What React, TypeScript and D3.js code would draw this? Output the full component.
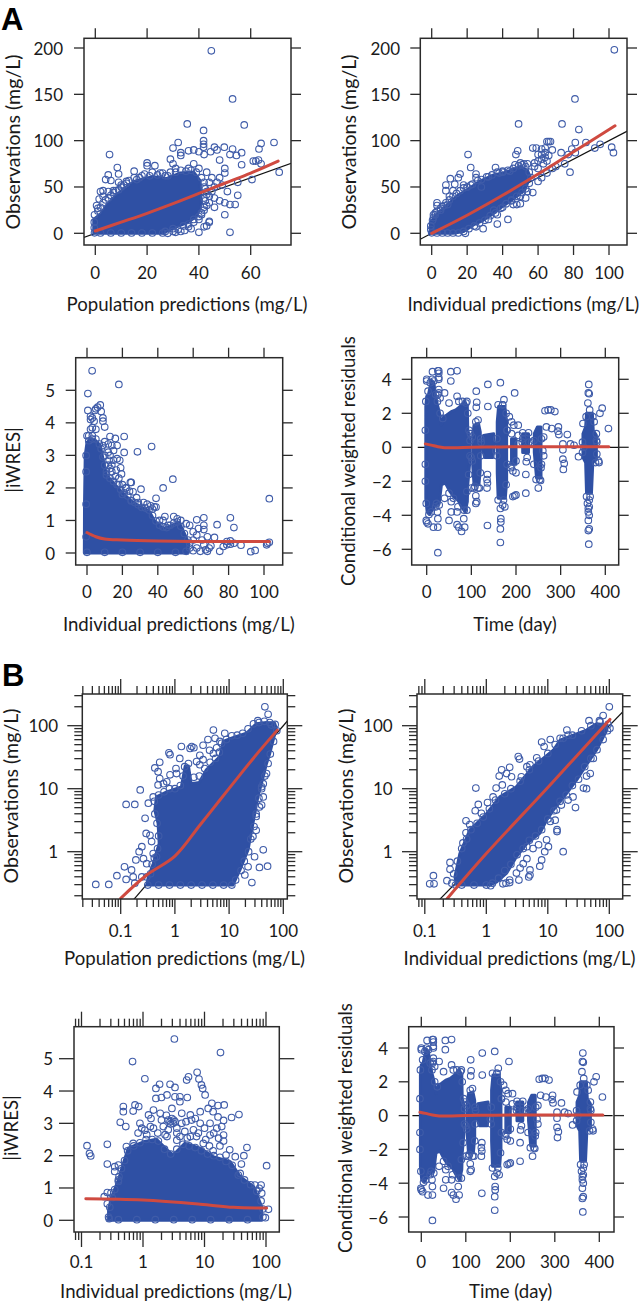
import React from "react";
import * as d3 from "d3";

type P = [number, number];

const BLUE = "#2f50a4";
const RING = "#3f5ca9";
const RED = "#cf4a40";

// ---------- Panel A1: observations vs population predictions ----------
const a1Dense: P[] = [[-0.6,0],[26,0],[27.5,2],[31.4,7],[35,11],[39,18],[41,32],[40.4,57],[38,66],[32.7,65],[27.5,59],[22.4,61],[18.5,59],[15,56],[11,48],[7.6,40],[4.4,30],[2,21],[-0.6,15]];
const a1Edge: P[] = [[1,24],[2,28],[3,33],[4,36],[5,38],[6,41],[7,44],[8,46],[9,47],[10,50],[11,52],[12,54],[13,57],[15,60],[16,58],[18,62],[19,64],[21,62],[22,66],[24,63],[26,65],[28,62],[29,66],[31,66],[33,68],[35,67],[37,68],[39,66],[41,60],[42,55],[42.5,48],[43,42],[42.5,35],[42,28],[41,22],[40,18],[38,15],[36,10],[34,8],[32,4],[30,2],[26,0.3],[22,0.3],[18,0.3],[14,0.3],[10,0.3],[6,0.3],[2,0.3],[-0.3,0.5],[-0.4,6],[-0.4,12],[-0.3,20]];
const a1Points: P[] = [[44.8,197],[53,145],[35.5,118],[57.5,117],[41.8,111],[41.8,100],[41.8,96],[41.8,93],[69,98],[64,97],[63.2,91],[53,91],[49.8,93],[46,93],[44.5,88],[42,85],[40,88],[38,90],[36,89],[33,87],[33,84],[30,92],[32,98],[52,85],[54.5,84],[56.5,87],[47,90],[48,79],[56.5,74],[61,78],[62,78],[63,79],[64,75],[71,66],[60.5,58],[55,55],[55,41],[52,31],[54,31],[50,20],[52,1],[44,13],[44,12],[42,7],[43,8],[40,1],[37,5],[36,7],[33,2],[34.5,3],[31,1],[28,0],[5.5,85],[8.5,71],[9,64],[5,63],[4,58],[6,57],[3,46],[2,45],[1.5,37],[3,40],[5,45],[7,46],[9,55],[10,52],[15,67],[20,76],[20,73],[23,73],[29,80],[30,75],[31,70],[36,70],[38,75],[40,70],[43,66],[45,60],[48,60],[50,70],[50,65],[47,55],[49,52],[51,45],[45,45],[44,40],[46,38],[48,35],[50,33],[46,28],[43,30],[42,25],[41,20],[40,15],[38,12],[30,5],[27,2],[25,65],[27,62],[17,60],[12,56],[1,27],[0.5,30],[42,50],[44,55],[46,50],[43,45],[42,38],[44,33]];
const a1Smooth: P[] = [[0,2.5],[10,12],[20,21.6],[30,32],[40,43],[50,54],[60,65],[70.6,78]];
const a1Identity: P[] = [[-5,-5],[76,76]];

// ---------- Panel A2: observations vs individual predictions ----------
const a2Dense: P[] = [[-0.7,0],[12,0],[18,2],[23.5,9],[29,14],[35,21.6],[40,29],[48,40],[52.6,47],[55.5,61],[54,68],[50,72],[42,66],[35,63],[27,56],[20,47],[14,40],[8.5,30],[3,21],[-0.7,12]];
const a2Edge: P[] = [[0.5,14],[1,17],[2,20],[3,24],[5,27],[6,29],[8,33],[10,36],[12,40],[14,43],[16,46],[18,49],[20,50],[23,53],[26,57],[28,58],[31,61],[34,63],[37,66],[40,67],[43,68],[46,70],[49,73],[51,74],[53,72],[55,66],[56,60],[55,54],[53,48],[51,44],[48,40],[45,36],[42,32],[39,27],[36,22],[33,19],[30,14],[27,11],[24,8],[21,5],[18,2],[15,0.3],[12,0.3],[9,0.3],[6,0.3],[3,0.3],[0,0.5],[-0.5,4],[-0.5,8]];
const a2Points: P[] = [[103,198],[80.8,145],[49,118],[73.5,118],[83,112],[87,98],[81,98],[65,99],[66,99],[67,99],[95,96],[92,92],[101.5,93],[102.5,87],[48.5,89],[47.5,85],[20.5,85],[22,71],[36,71],[64,92],[57,92],[59,92],[62,91],[68,90],[73,87],[79,91],[81,87],[77,85],[75,75],[78,66],[70,72],[68,70],[65,65],[62,60],[60,56],[57,44],[50,32],[48,31],[46,31],[43,15],[37,20],[37,10],[29,5],[19,0],[25,7],[10.5,59],[8,52],[13,53],[16,64],[15,60],[25,60],[25,64],[10,40],[8,46],[3,33],[3,30],[7,30],[9,31],[1,20],[2,22],[5,25],[28,50],[32,61],[38,65],[40,66],[44,67],[47,74],[50,76],[52,75],[54,75],[58,76],[60,78],[62,80],[64,82],[60,70],[63,75],[65,78],[18,52],[20,50],[22,52],[12,46],[45,35],[50,40],[53,38],[54,45],[32,15],[35,25],[40,28],[62,85],[64,87],[66,84],[60,85],[58,72]];
const a2Smooth: P[] = [[0,0],[20,19.5],[40,41],[60,64],[80,88],[103.4,116]];
const a2Identity: P[] = [[-7,-7],[111,111]];

// ---------- Panel A3 / B3: |iWRES| vs individual predictions ----------
const a3Dense: P[] = [[-1.5,0],[57,0],[57.5,0.3],[55,0.6],[52,0.95],[48,0.85],[43,0.75],[38,1],[35,1.3],[30,1.42],[25,1.6],[20,1.85],[15,2.15],[11,2.4],[9,2.9],[7.5,3.3],[5,3.45],[2,3.5],[0,3.4],[-1,3],[-1.4,1.5]];
const a3Edge: P[] = [[0,3.6],[1,3.45],[3,3.5],[5,3.5],[7,3.35],[8,3.2],[9,2.95],[10,2.7],[11,2.5],[13,2.3],[15,2.2],[17,2.1],[19,1.95],[21,1.85],[23,1.75],[25,1.62],[27,1.55],[29,1.48],[31,1.4],[33,1.38],[35,1.32],[37,1.15],[39,0.98],[41,0.85],[43,0.8],[45,0.78],[47,0.85],[49,0.92],[51,0.95],[53,0.82],[55,0.6],[57,0.4],[58,0.15],[56,0.05],[50,0.02],[40,0.02],[30,0.02],[20,0.02],[10,0.02],[0,0.02],[-0.5,0.5],[-0.5,1.5],[-0.5,2.5],[-0.5,3],[12,2.7],[14,2.5],[10,3],[12,3.1],[14,2.7],[16,2.35],[18,2.3],[22,2],[24,1.9],[28,1.7],[32,1.55],[34,1.5],[36,1.45]];
const a3Points: P[] = [[2.9,5.6],[18,5.18],[0.5,4.9],[7.5,4.55],[6,4.48],[5,4.43],[4.5,4.38],[0.5,4.38],[8,4.35],[2,4.2],[9,4.15],[9,4.05],[2,4.1],[3,4.15],[4,4.05],[10,3.87],[3,3.85],[5,3.8],[2,3.8],[1,3.6],[3,3.6],[21,3.58],[36.5,3.27],[21,3.09],[28.5,3.11],[13,3.58],[16,3.52],[10,3.42],[12,3.35],[14,3.3],[17,3.3],[9,3.3],[15,3.15],[13,3],[12.5,2.85],[15,2.85],[17,2.9],[18.5,2.85],[19,2.62],[19.5,2.43],[16.5,2.55],[13,2.6],[11,2.4],[48.5,2.27],[43,2],[30.5,1.96],[24.5,2.17],[25,2.17],[20,2.1],[18,2.1],[22,2],[26,1.88],[20,1.8],[39,1.68],[103,1.67],[29,1.55],[25,1.6],[38,1.42],[39,1.41],[37,1.35],[44,1.12],[49,1.12],[51,1.05],[41,1],[43,1],[46,0.85],[53,1],[66,1.08],[81,1.08],[62,1.02],[56,0.9],[58,0.85],[66,0.85],[63,0.75],[73.5,0.87],[83,0.78],[66,0.72],[60,0.65],[62,0.55],[68,0.5],[72,0.48],[65,0.4],[60,0.4],[70,0.22],[75,0.05],[77,0.2],[79,0.35],[81,0.37],[79,0.25],[81,0.27],[83,0.3],[87,0.24],[92.5,0.04],[95,0.08],[101.5,0.25],[102,0.3],[103,0.33],[68,0.05],[64,0.05],[60,0.07],[62,0.15],[66,0.25],[67,0.1],[69,0.15],[58,0.3]];
const a3Smooth: P[] = [[0,0.63],[5,0.5],[10,0.43],[20,0.4],[40,0.37],[60,0.355],[80,0.35],[103,0.35]];

const b3DenseLog: P[] = [[-0.56,0],[1.93,0],[1.93,0.42],[1.8,1.04],[1.58,1.35],[1.42,1.81],[1.14,1.97],[0.93,2.23],[0.68,2.38],[0.49,2.02],[0.39,2.18],[0.22,2.51],[0.01,2.43],[-0.24,2.23],[-0.32,1.76],[-0.4,1.25],[-0.51,0.73],[-0.56,0.32]];
const b3EdgeLog: P[] = [[-0.56,0.1],[-0.54,0.4],[-0.5,0.7],[-0.46,0.95],[-0.4,1.25],[-0.35,1.6],[-0.3,1.85],[-0.25,2.15],[-0.15,2.3],[-0.05,2.4],[0.05,2.5],[0.15,2.5],[0.25,2.45],[0.35,2.2],[0.45,2.05],[0.55,2.2],[0.65,2.35],[0.75,2.3],[0.85,2.25],[0.95,2.15],[1.05,2.05],[1.15,2],[1.25,1.95],[1.35,1.82],[1.45,1.7],[1.55,1.4],[1.65,1.25],[1.75,1.1],[1.85,0.9],[1.92,0.6],[1.95,0.35],[1.95,0.1],[1.7,0.02],[1.4,0.02],[1.1,0.02],[0.8,0.02],[0.5,0.02],[0.2,0.02],[-0.1,0.02],[-0.4,0.02],[-0.55,0.05],[-0.08,2.7],[0.06,2.65],[0.12,2.9],[0.24,2.7],[0.36,2.65],[0.3,3.1],[0.41,2.8],[0.55,2.7],[0.55,2.85],[0.68,2.75],[0.7,3.05],[0.72,2.55],[0.82,2.8],[0.85,3.15],[0.9,2.7],[1,2.85],[1.02,2.5],[1.08,2.3],[1.14,2.15],[1.15,2.7],[1.25,2.3],[1.28,2.9],[1.22,3.2],[-0.02,2.85],[0.13,3.15],[0.38,3.25]];
const b3PointsLog: P[] = [[0.51,5.61],[1.26,5.19],[-0.17,4.91],[0.03,4.38],[0.88,4.58],[0.74,4.44],[0.71,4.34],[0.91,4.37],[0.95,4.19],[0.97,4.08],[1.01,3.88],[0.44,4.21],[0.52,4.11],[0.27,4.21],[0.21,4.08],[0.21,3.77],[0.39,3.88],[0.3,3.8],[0.52,3.82],[0.6,3.82],[0.72,3.8],[0.6,3.67],[-0.13,3.57],[-0.07,3.52],[-0.32,3.52],[-0.32,3.36],[-0.16,3.38],[-0.37,3.03],[-0.28,2.9],[1.12,3.62],[1.32,3.57],[1.22,3.55],[1.06,3.46],[1.56,3.27],[1.44,3.18],[1.31,3.09],[1.14,3.36],[0.93,3.36],[0.77,3.26],[0.63,3.31],[0.47,3.46],[0.17,3.41],[0.09,3.26],[0.28,3.31],[0.44,3.05],[0.41,3.1],[0.49,3],[0.47,3.15],[0.52,3.05],[0.45,2.98],[0.5,3.1],[-0.05,3],[0.03,2.79],[0.17,2.85],[0.33,2.9],[0.63,3],[0.79,3.1],[0.93,3],[1.09,3],[1.2,2.85],[1.31,2.64],[1.31,2.45],[1.23,2.54],[1.09,2.64],[0.98,2.38],[-0.91,2.31],[-0.87,2.07],[-0.85,1.99],[-0.58,2.35],[-0.58,1.74],[-0.46,1.66],[-0.4,1.71],[-0.46,1.51],[-0.39,1.35],[-0.4,1.2],[-0.58,0.86],[-0.63,0.73],[-0.58,0.51],[-0.52,0.85],[1.69,2.25],[1.64,2],[1.6,1.74],[1.5,1.97],[1.41,2.18],[1.35,2.02],[2.01,1.69],[1.92,1.09],[1.82,1.09],[1.89,0.99],[1.93,0.84],[2.04,0.34],[1.99,0.08],[1.58,1.45],[-0.27,2.28],[-0.16,2.38],[0.39,2.59],[0.55,2.48],[0.6,2.59],[0.77,2.59],[0.87,2.59]];
const b3SmoothLog: P[] = [[-0.93,0.67],[0,0.63],[0.93,0.5],[1.47,0.4],[2.01,0.38]];

// ---------- Panels A4 / B4: conditional weighted residuals vs time ----------
const cwresVisit1: P[] = [[-2,2.4],[0,3],[4,3.1],[8,3.6],[12,3.9],[16,3.8],[20,3],[24,2.5],[28,2.1],[33,1.3],[38,1.8],[45,1.9],[55,2.1],[65,2.2],[75,2.4],[85,2.7],[91,2.4],[92,1],[96,0.6],[96,-1],[92,-2.2],[91,-3.2],[86,-3.8],[78,-3.5],[70,-3.1],[60,-2.9],[52,-2.6],[42,-2.1],[33,-2.2],[28,-3.3],[20,-3.4],[12,-3.7],[6,-3.95],[1,-3.8],[-2,-3]];
const cwresVisit2: P[] = [[103,0.7],[106,1.3],[116,1.4],[120,0.9],[120,-1.3],[117,-2.2],[106,-2.2],[103,-1]];
const cwresVisit3: P[] = [[127,0.7],[150,0.8],[152,0.2],[148,-0.6],[130,-0.6],[125,-0.1]];
const cwresVisit4: P[] = [[158,1.5],[161,2.4],[175,2.4],[179,1.5],[179,-2],[176,-3],[160,-3],[158,-1.5]];
const cwresVisit5: P[] = [[190,0.5],[200,0.5],[200,-1],[190,-1]];
const cwresVisit6: P[] = [[215,0.8],[228,0.8],[228,-0.3],[215,-0.3]];
const cwresVisit7: P[] = [[241,0.8],[248,1.2],[256,1.2],[256,-1.8],[246,-1.8],[241,-0.3]];
const cwresVisit8: P[] = [[350,0.8],[356,1.2],[358,2],[371,2],[373,1],[380,0.7],[380,-0.7],[372,-0.9],[369,-2.7],[358,-2.7],[356,-0.9],[350,-0.6]];
const cwresEdge: P[] = [[-3,1],[-3,-1],[-3,-2],[-2,2.7],[3,3.3],[8,3.8],[12,4],[16,3.9],[20,3.1],[24,2.7],[30,2],[36,1.7],[-1,-3.3],[5,-3.95],[10,-3.8],[20,-3.5],[60,-3],[92,2],[88,2.6],[95,1],[97,0.4],[97,-0.5],[94,-1.6],[102,0.6],[102,-0.8],[110,1.5],[115,1.6],[121,0.5],[121,-0.5],[120,-1.5],[106,-2.4],[115,-2.4],[157,0.5],[157,-0.5],[160,2.5],[170,2.5],[178,2],[180,1],[180,-1],[178,-2.2],[160,-3.1],[172,-3.1],[190,-1.1],[200,-0.8],[214,0.3],[229,0.3],[228,0.85],[215,0.85],[240,0.4],[257,0.5],[257,-1],[240,-1],[245,-1.9],[255,-1.95],[349,0.3],[349,-0.3],[381,0.3],[381,-0.4],[357,1.8],[372,1.8],[358,-2.9],[366,-2.9],[360,-3.3],[364,-3.5],[362,-3.8]];
const cwresPoints: P[] = [[13,4.45],[25,4.5],[27,4.5],[27,4.35],[27,4.1],[27,4],[54,4.45],[68,4.5],[54,3.9],[0,4],[0,3.9],[27,3.4],[27,3.2],[40,3.2],[30,2.9],[25,3.1],[68,3],[50,2.6],[72,2.7],[90,2.7],[80,2.7],[111,3.3],[112,2.65],[111,2.35],[137,3.7],[165,3.8],[137,2.4],[173,2.8],[197,3.2],[170,2.5],[185,1.8],[190,1.5],[195,1.3],[205,1.3],[180,1],[190,0.8],[205,0.7],[215,0.5],[265,2.15],[272,2.2],[278,2.2],[287,2.1],[393,2.3],[388,2],[407,1.1],[295,1.2],[294,0.95],[296,0.75],[280,1.1],[268,1.2],[262,0.6],[315,0.75],[305,0.2],[322,0.2],[330,0.12],[305,-0.15],[340,-0.55],[352,0],[350,1.4],[305,-0.7],[308,-0.95],[306,-1.3],[380,0.4],[385,-0.8],[386,-0.9],[380,0.8],[375,1.5],[378,-0.9],[260,-0.2],[250,-2.4],[253,-1.9],[222,-1.6],[223,-0.85],[225,-0.6],[222,-2.7],[200,-2.8],[197,-2.85],[193,-2.9],[200,-1.5],[193,-1.4],[188,-1.2],[136,-4.6],[135,-2.4],[135,-1.9],[136,-1.6],[136,-2.1],[112,-3.2],[110,-3.3],[110,-2.85],[118,-2.4],[108,-2.3],[165,-5.6],[165,-4.8],[166,-4.4],[166,-4.2],[165,-3.6],[170,-3.4],[175,-3.5],[363,-5.7],[362,-4.9],[364,-4.8],[362,-4.3],[364,-4],[362,-3.6],[364,-3.1],[363,3.7],[362,3.2],[364,3.15],[361,2.6],[365,2.2],[25,-6.2],[-1,-4.3],[0,-4.4],[3,-4.5],[15,-4.7],[25,-4.7],[25,-4.2],[24,-3.8],[22,-3.3],[50,-4.3],[55,-3.8],[55,-3.2],[68,-3.8],[68,-4.55],[72,-4.7],[78,-4.95],[85,-4.7],[83,-4.2],[84,-3.7],[90,-3.7],[90,-2.6],[100,-2.4],[40,-3],[28,-3.4],[50,-2.7],[70,-3.5],[98,0.8],[100,-0.6],[122,0.3],[155,-0.2],[205,0.2],[235,0.3],[262,-0.5],[256,-1.2]];
const cwresSmooth: P[] = [[-3,0.2],[10,0.13],[25,0.03],[40,-0.02],[60,-0.03],[100,0],[150,0.02],[200,0.03],[300,0.03],[408,0.03]];
const cwresZero: P[] = [[-20,0],[430,0]];

// ---------- Panel B1 (log10 of both axes) ----------
const b1DenseLog: P[] = [[-0.52,-0.53],[1.07,-0.53],[1.2,-0.29],[1.35,0.03],[1.44,0.45],[1.53,0.87],[1.63,1.19],[1.69,1.4],[1.75,1.56],[1.87,1.96],[1.84,2.04],[1.69,2.05],[1.5,2.03],[1.32,1.88],[1.07,1.81],[0.89,1.75],[0.83,1.51],[0.58,1.3],[0.45,1.1],[0.3,1.08],[0.25,1.36],[0.19,1.36],[0.12,1.03],[-0.15,0.95],[-0.34,0.87],[-0.37,0.66],[-0.31,0.45],[-0.29,0.13],[-0.4,-0.19],[-0.49,-0.4]];
const b1EdgeLog: P[] = [[-0.45,-0.35],[-0.42,-0.2],[-0.38,-0.1],[-0.32,0.05],[-0.3,0.25],[-0.33,0.45],[-0.37,0.6],[-0.38,0.8],[-0.3,0.9],[-0.2,0.95],[-0.1,1],[0,1],[0.1,1.05],[0.15,1.2],[0.18,1.35],[0.25,1.4],[0.35,1.18],[0.45,1.2],[0.55,1.32],[0.65,1.42],[0.75,1.48],[0.82,1.58],[0.86,1.72],[0.95,1.78],[1.05,1.84],[1.15,1.85],[1.25,1.88],[1.35,1.95],[1.45,2.03],[1.55,2.05],[1.65,2.07],[1.75,2.05],[1.85,2.02],[1.88,1.92],[1.82,1.75],[1.76,1.55],[1.72,1.4],[1.66,1.2],[1.6,1],[1.55,0.85],[1.5,0.6],[1.46,0.4],[1.4,0.2],[1.36,0],[1.28,-0.15],[1.22,-0.3],[1.12,-0.45],[1.05,-0.53],[0.9,-0.53],[0.7,-0.53],[0.5,-0.53],[0.3,-0.53],[0.1,-0.53],[-0.1,-0.53],[-0.3,-0.53],[-0.5,-0.53]];
const b1PointsLog: P[] = [[1.66,2.3],[1.72,2.18],[1.78,2.01],[1.53,2.08],[0.71,1.93],[0.92,1.88],[0.61,1.78],[0.74,1.8],[0.52,1.69],[0.77,1.65],[0.71,1.56],[0.46,1.53],[0.31,1.67],[0.28,1.64],[0.35,1.65],[0.12,1.67],[-0.11,1.57],[-0.09,1.54],[-0.28,1.42],[-0.37,1.33],[-0.31,1.27],[-0.28,1.16],[-0.31,1.06],[-0.21,1.08],[-0.09,1.22],[0.02,1.32],[0.03,1.24],[-0.15,1.11],[-0.64,0.98],[-0.4,0.87],[-0.49,0.77],[-0.9,0.75],[-0.74,0.75],[-0.55,0.53],[-0.53,0.29],[-0.46,0.26],[-0.43,0.16],[-0.61,0.08],[-0.66,0],[-0.72,-0.13],[-0.58,-0.11],[-0.52,-0.19],[-0.93,-0.24],[-0.9,-0.44],[-1.07,-0.38],[-1.46,-0.52],[-1.22,-0.52],[-0.8,-0.29],[-0.77,-0.4],[-0.74,-0.5],[-0.61,-0.4],[-0.52,-0.4],[-0.4,-0.03],[-0.34,-0.08],[1.63,0.03],[1.56,-0.25],[1.71,-0.23],[1.42,-0.49],[1.47,-0.08],[1.35,-0.24],[1.29,-0.37],[1.56,0.71],[1.5,0.56],[1.44,0.24],[1.6,0.74],[1.63,0.87],[1.63,1.08],[1.69,1.24],[1.6,1.03],[1.5,0.34],[0.46,1.38],[0.4,1.43],[0.52,1.46],[0.64,1.61],[0.83,1.75],[0.09,1.48]];
const b1SmoothLog: P[] = [[-1,-0.74],[-0.52,-0.37],[0,-0.07],[0.46,0.42],[0.83,0.82],[1.2,1.22],[1.56,1.6],[1.89,1.93]];
const b1IdentityLog: P[] = [[-0.8,-0.8],[2.1,2.1]];

// ---------- Panel B2 (log10 of both axes) ----------
const b2DenseLog: P[] = [[-0.48,-0.53],[0.06,-0.53],[0.17,-0.48],[0.33,-0.34],[0.49,-0.08],[0.66,0.13],[0.87,0.29],[0.98,0.5],[1.09,0.66],[1.31,0.93],[1.47,1.14],[1.63,1.38],[1.79,1.61],[1.96,1.93],[1.96,2.01],[1.79,2.03],[1.63,1.93],[1.2,1.77],[1.09,1.61],[0.76,1.35],[0.49,1.03],[0.22,0.87],[0.01,0.61],[-0.27,0.34],[-0.43,-0.03],[-0.51,-0.4]];
const b2EdgeLog: P[] = [[-0.5,-0.53],[-0.4,-0.53],[-0.2,-0.53],[0,-0.53],[0.1,-0.5],[0.2,-0.42],[0.3,-0.3],[0.4,-0.2],[0.5,-0.05],[0.6,0.05],[0.7,0.18],[0.8,0.25],[0.9,0.35],[1,0.52],[1.1,0.65],[1.2,0.8],[1.3,0.9],[1.4,1.05],[1.5,1.15],[1.6,1.35],[1.7,1.48],[1.8,1.62],[1.9,1.78],[1.97,1.92],[1.98,2.02],[1.85,2.06],[1.7,2],[1.55,1.92],[1.4,1.85],[1.25,1.8],[1.12,1.7],[1,1.56],[0.85,1.44],[0.7,1.3],[0.55,1.12],[0.4,1],[0.3,0.92],[0.15,0.82],[0.05,0.68],[-0.05,0.55],[-0.15,0.45],[-0.25,0.35],[-0.32,0.2],[-0.4,0.05],[-0.47,-0.15],[-0.53,-0.35]];
const b2PointsLog: P[] = [[2,2.3],[1.9,2.16],[1.67,2.08],[1.84,2.08],[2.01,1.96],[1.31,1.93],[1.33,1.85],[1.2,1.8],[1.04,1.78],[0.9,1.74],[0.94,1.67],[0.52,1.51],[0.54,1.47],[0.82,1.49],[0.25,1.3],[0.38,1.34],[0.33,1.24],[0.21,1.2],[0.41,1.19],[0.57,1.19],[0.66,1.35],[0.71,1.38],[-0.17,1.01],[0.26,1.06],[0.16,1.01],[0.11,0.87],[0.02,0.78],[-0.13,0.75],[-0.18,0.65],[-0.08,0.61],[-0.33,0.49],[-0.27,0.43],[-0.33,0.3],[-0.38,0.14],[-0.59,-0.17],[-0.59,-0.28],[-0.86,-0.38],[-0.92,-0.51],[-0.85,-0.51],[-0.64,-0.46],[-0.56,-0.5],[1.25,0],[1.45,0.7],[1.58,1.01],[1.63,1.2],[1.41,0.87],[1.33,0.82],[1.22,0.74],[1.15,0.32],[1.15,0.35],[1.12,0.5],[1.14,0.66],[1.04,0.48],[0.98,0.19],[1.01,0.08],[0.95,0],[0.9,-0.13],[0.87,-0.23],[0.76,0.05],[0.66,0.08],[0.85,0.11],[0.71,-0.37],[0.71,-0.29],[0.6,-0.19],[0.66,-0.11],[0.55,-0.26],[0.49,-0.34],[0.38,-0.45],[0.27,-0.51],[0.32,-0.5],[0.38,-0.49],[0.53,-0.45],[0.69,-0.4],[0.07,-0.54],[1.63,1],[1.69,1.24],[1.74,1.48]];
const b2SmoothLog: P[] = [[-0.64,-0.75],[0,-0.03],[1,1.02],[2.01,2.1]];
const b2IdentityLog: P[] = [[-0.8,-0.8],[2.23,2.23]];

// ---------- Tick labels and titles ----------
const xA1Ticks = [0, 20, 40, 60];
const xA2Ticks = [0, 20, 40, 60, 80, 100];
const yObsTicks = [0, 50, 100, 150, 200];
const yResTicks = [0, 1, 2, 3, 4, 5];
const xTimeTicks = [0, 100, 200, 300, 400];
const yCwresTicks = [-6, -4, -2, 0, 2, 4];
const logLabels = [0.1, 1, 10, 100];
const yLogLabels = [1, 10, 100];
const minorMultipliers = [2, 3, 4, 5, 6, 7, 8, 9];
const decades = [0.01, 0.1, 1, 10, 100];

const pow = (pts: P[]): P[] => pts.map(([a, b]) => [10 ** a, 10 ** b]);
const powX = (pts: P[]): P[] => pts.map(([a, b]) => [10 ** a, b]);
const fmtNum = (v: number) => String(v).replace("-", "\u2212");

type Scale = (v: number) => number;
interface Box { l: number; r: number; t: number; b: number }
interface PanelDef {
  box: Box;
  x: Scale; y: Scale;
  xTicks: number[]; yTicks: number[];
  xMinor?: number[]; yMinor?: number[];
  xTitle: string; yTitle: string; yTitleSize?: number;
  xTitleX: number; xTickY: number; xTitleY: number;
  yTitleX: number; yTitleY: number; yLabelX: number;
  dense: P[][]; points: P[]; smooth: P[]; ref?: P[];
}

const logMinor = (lo: number, hi: number) => {
  const out: number[] = [];
  decades.forEach((d) => minorMultipliers.forEach((m) => {
    const v = d * m;
    if (v >= lo && v <= hi) out.push(v);
  }));
  return out;
};

const Panel = ({ p, id }: { p: PanelDef; id: string }) => {
  const { box, x, y } = p;
  const line = d3.line<P>().x((d) => x(d[0])).y((d) => y(d[1]));
  const smoothLine = d3.line<P>().x((d) => x(d[0])).y((d) => y(d[1])).curve(d3.curveCatmullRom.alpha(0.5));
  const blob = d3.line<P>().x((d) => x(d[0])).y((d) => y(d[1])).curve(d3.curveLinearClosed);
  const major = p.xMinor ? 15 : 10;
  const minor = 8;
  const ink = "#2b2b2b";
  const sw = 1.3;
  return (
    <g>
      <defs>
        <clipPath id={id}><rect x={box.l} y={box.t} width={box.r - box.l} height={box.b - box.t} /></clipPath>
      </defs>
      <g clipPath={`url(#${id})`}>
        {p.ref && <path d={line(p.ref) || ""} fill="none" stroke="#111" strokeWidth={1.2} />}
      </g>
      {p.dense.map((d, i) => (
        <path key={i} d={blob(d) || ""} fill={BLUE} stroke={BLUE} strokeWidth={3} strokeLinejoin="round" />
      ))}
      {p.points.map((d, i) => (
        <circle key={i} cx={x(d[0])} cy={y(d[1])} r={3.3} fill="none" stroke={RING} strokeWidth={1.1} />
      ))}
      <path d={smoothLine(p.smooth) || ""} fill="none" stroke={RED} strokeWidth={3} strokeLinecap="round" clipPath={`url(#${id})`} />
      <rect x={box.l} y={box.t} width={box.r - box.l} height={box.b - box.t} fill="none" stroke={ink} strokeWidth={1.5} />
      {p.xTicks.map((v) => (
        <g key={`xt${v}`} stroke={ink} strokeWidth={sw}>
          <line x1={x(v)} x2={x(v)} y1={box.t - major} y2={box.t} />
          <line x1={x(v)} x2={x(v)} y1={box.b} y2={box.b + major} />
        </g>
      ))}
      {(p.xMinor || []).map((v) => (
        <g key={`xm${v}`} stroke={ink} strokeWidth={sw}>
          <line x1={x(v)} x2={x(v)} y1={box.t - minor} y2={box.t} />
          <line x1={x(v)} x2={x(v)} y1={box.b} y2={box.b + minor} />
        </g>
      ))}
      {p.yTicks.map((v) => (
        <g key={`yt${v}`} stroke={ink} strokeWidth={sw}>
          <line x1={box.l - major} x2={box.l} y1={y(v)} y2={y(v)} />
          <line x1={box.r} x2={box.r + major} y1={y(v)} y2={y(v)} />
        </g>
      ))}
      {(p.yMinor || []).map((v) => (
        <g key={`ym${v}`} stroke={ink} strokeWidth={sw}>
          <line x1={box.l - minor} x2={box.l} y1={y(v)} y2={y(v)} />
          <line x1={box.r} x2={box.r + minor} y1={y(v)} y2={y(v)} />
        </g>
      ))}
      <g fontFamily="Lato, 'Open Sans', sans-serif" fill="#1a1a1a">
        {p.xTicks.map((v) => (
          <text key={`xl${v}`} fontSize={17} x={x(v)} y={p.xTickY} textAnchor="middle" dominantBaseline="central">{fmtNum(v)}</text>
        ))}
        {p.yTicks.map((v) => (
          <text key={`yl${v}`} fontSize={17} x={p.yLabelX} y={y(v)} textAnchor="end" dominantBaseline="central">{fmtNum(v)}</text>
        ))}
        <text fontSize={18.6} x={p.xTitleX} y={p.xTitleY} textAnchor="middle" dominantBaseline="central">{p.xTitle}</text>
        <text fontSize={p.yTitleSize || 18.6} transform={`translate(${p.yTitleX},${p.yTitleY}) rotate(-90)`} textAnchor="middle" dominantBaseline="central">{p.yTitle}</text>
      </g>
    </g>
  );
};

const linear = (d: [number, number], r: [number, number]) => d3.scaleLinear().domain(d).range(r) as unknown as Scale;
const logS = (d: [number, number], r: [number, number]) => d3.scaleLog().domain(d).range(r) as unknown as Scale;

const cwresDense = [cwresVisit1, cwresVisit2, cwresVisit3, cwresVisit4, cwresVisit5, cwresVisit6, cwresVisit7, cwresVisit8];
const popTitle = "Population predictions (mg/L)";
const indTitle = "Individual predictions (mg/L)";
const obsTitle = "Observations (mg/L)";
const cwresTitle = "Conditional weighted residuals";

const panels: PanelDef[] = [
  {
    box: { l: 84, r: 291, t: 38.3, b: 245 },
    x: linear([0, 60], [95.3, 250.7]), y: linear([0, 200], [233.3, 48]),
    xTicks: xA1Ticks, yTicks: yObsTicks,
    xTitle: popTitle, yTitle: obsTitle, yTitleSize: 19.6,
    xTitleX: 187, xTickY: 272, xTitleY: 304, yTitleX: 12.5, yTitleY: 142, yLabelX: 63,
    dense: [a1Dense], points: [...a1Edge, ...a1Points], smooth: a1Smooth, ref: a1Identity,
  },
  {
    box: { l: 420.3, r: 627, t: 38.3, b: 245 },
    x: linear([0, 100], [431.7, 609]), y: linear([0, 200], [233.3, 48]),
    xTicks: xA2Ticks, yTicks: yObsTicks,
    xTitle: indTitle, yTitle: obsTitle, yTitleSize: 19.6,
    xTitleX: 523.3, xTickY: 272, xTitleY: 304, yTitleX: 348, yTitleY: 142, yLabelX: 400,
    dense: [a2Dense], points: [...a2Edge, ...a2Points], smooth: a2Smooth, ref: a2Identity,
  },
  {
    box: { l: 75.7, r: 282.7, t: 357.7, b: 565 },
    x: linear([0, 100], [87, 264]), y: linear([0, 5], [553, 390.3]),
    xTicks: xA2Ticks, yTicks: yResTicks,
    xTitle: indTitle, yTitle: "|iWRES|",
    xTitleX: 178.8, xTickY: 591, xTitleY: 624, yTitleX: 13, yTitleY: 460, yLabelX: 55,
    dense: [a3Dense], points: [...a3Edge, ...a3Points], smooth: a3Smooth,
  },
  {
    box: { l: 411.7, r: 618.7, t: 357.7, b: 565 },
    x: linear([0, 400], [426.7, 605.3]), y: linear([-6, 4], [549.3, 379.3]),
    xTicks: xTimeTicks, yTicks: yCwresTicks,
    xTitle: "Time (day)", yTitle: cwresTitle,
    xTitleX: 515, xTickY: 591, xTitleY: 624, yTitleX: 348, yTitleY: 461, yLabelX: 391.7,
    dense: cwresDense, points: [...cwresEdge, ...cwresPoints], smooth: cwresSmooth, ref: cwresZero,
  },
  {
    box: { l: 82.3, r: 287.3, t: 694, b: 899 },
    x: logS([0.1, 100], [120.7, 283.3]), y: logS([1, 100], [851.7, 725.7]),
    xTicks: logLabels, yTicks: yLogLabels,
    xMinor: logMinor(0.02, 117), yMinor: logMinor(0.18, 310),
    xTitle: popTitle, yTitle: obsTitle, yTitleSize: 19.6,
    xTitleX: 184.5, xTickY: 930, xTitleY: 958, yTitleX: 10.7, yTitleY: 796, yLabelX: 58,
    dense: [pow(b1DenseLog)], points: pow([...b1EdgeLog, ...b1PointsLog]), smooth: pow(b1SmoothLog), ref: pow(b1IdentityLog),
  },
  {
    box: { l: 417, r: 622.7, t: 694, b: 899 },
    x: logS([1, 100], [486.3, 609.3]), y: logS([1, 100], [851.7, 725.7]),
    xTicks: logLabels, yTicks: yLogLabels,
    xMinor: logMinor(0.08, 165), yMinor: logMinor(0.18, 310),
    xTitle: indTitle, yTitle: obsTitle, yTitleSize: 19.6,
    xTitleX: 519.5, xTickY: 930, xTitleY: 958, yTitleX: 345, yTitleY: 796, yLabelX: 392.7,
    dense: [pow(b2DenseLog)], points: pow([...b2EdgeLog, ...b2PointsLog]), smooth: pow(b2SmoothLog), ref: pow(b2IdentityLog),
  },
  {
    box: { l: 74, r: 279.3, t: 1026.7, b: 1232 },
    x: logS([1, 100], [143, 266]), y: linear([0, 5], [1220.3, 1058.7]),
    xTicks: logLabels, yTicks: yResTicks,
    xMinor: logMinor(0.08, 165),
    xTitle: indTitle, yTitle: "|iWRES|",
    xTitleX: 176, xTickY: 1261.7, xTitleY: 1291, yTitleX: 10.7, yTitleY: 1128, yLabelX: 53,
    dense: [powX(b3DenseLog)], points: powX([...b3EdgeLog, ...b3PointsLog]), smooth: powX(b3SmoothLog),
  },
  {
    box: { l: 408.7, r: 614, t: 1026.7, b: 1232 },
    x: linear([0, 400], [421.3, 599.3]), y: linear([-6, 4], [1217, 1048]),
    xTicks: xTimeTicks, yTicks: yCwresTicks,
    xTitle: "Time (day)", yTitle: cwresTitle,
    xTitleX: 510.7, xTickY: 1261.7, xTitleY: 1291, yTitleX: 345, yTitleY: 1128, yLabelX: 388,
    dense: cwresDense, points: [...cwresEdge, ...cwresPoints], smooth: cwresSmooth, ref: cwresZero,
  },
];

export default function App() {
  return (
    <svg width={640} height={1303} viewBox="0 0 640 1303" style={{ position: "absolute", left: 0, top: 0, background: "#fff" }}>
      <text x={1} y={30} fontFamily="'Liberation Sans', Arial, sans-serif" fontWeight={700} fontSize={31} fill="#000">A</text>
      <text x={2} y={686} fontFamily="'Liberation Sans', Arial, sans-serif" fontWeight={700} fontSize={31} fill="#000">B</text>
      {panels.map((p, i) => <Panel key={i} p={p} id={`clip${i}`} />)}
    </svg>
  );
}
